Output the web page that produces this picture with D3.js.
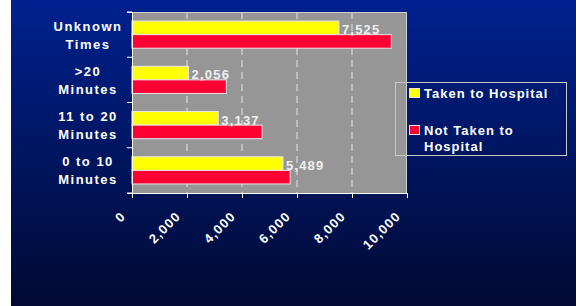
<!DOCTYPE html>
<html><head><meta charset="utf-8">
<script src="https://cdn.jsdelivr.net/npm/d3@7/dist/d3.min.js"></script>
<style>
html,body{margin:0;padding:0;background:#fff;}
svg{display:block;}
text{font-family:"Liberation Sans",Arial,sans-serif;font-weight:bold;fill:#fff;}
</style></head>
<body>
<svg id="c" width="576" height="306"></svg>
<script>
const categories = [["Unknown","Times"],[">20","Minutes"],["11 to 20","Minutes"],["0 to 10","Minutes"]];
const takenToHospital = [7525, 2056, 3137, 5489];
const notTakenToHospital = [9430, 3430, 4730, 5750];
const seriesNames = ["Taken to Hospital", ["Not Taken to","Hospital"]];
const xTicks = [0, 2000, 4000, 6000, 8000, 10000];

const svg = d3.select("#c");
const defs = svg.append("defs");
const g0 = defs.append("linearGradient").attr("id","bg").attr("x1",0).attr("y1",0).attr("x2",0).attr("y2",1);
g0.append("stop").attr("offset","0%").attr("stop-color","#00218f");
g0.append("stop").attr("offset","100%").attr("stop-color","#000a33");
svg.append("rect").attr("x",11).attr("y",0).attr("width",565).attr("height",306).attr("fill","url(#bg)");

const L=132, R=407, T=12, B=193;
const x = d3.scaleLinear().domain([0,10000]).range([L,R]);
const y = d3.scaleBand().domain(d3.range(categories.length)).range([T,B]).paddingInner(0.4).paddingOuter(0.2);
const band = d3.scaleBand().domain(d3.range(categories.length)).range([T,B]);

svg.append("rect").attr("x",L).attr("y",T).attr("width",R-L).attr("height",B-T).attr("fill","#969696");

// grid
svg.append("g").selectAll("line").data(xTicks.slice(1,-1)).join("line")
  .attr("x1",d=>x(d)).attr("x2",d=>x(d)).attr("y1",T).attr("y2",B)
  .attr("stroke","#e6e6e6").attr("stroke-width",1).attr("stroke-dasharray","7,5");
svg.append("path").attr("d",`M${L},${T+0.5}H${R-0.5}V${B}`).attr("fill","none").attr("stroke","#d0d0d0").attr("stroke-width",1);

// bars
const bh = y.bandwidth()/2;
const gb = svg.append("g");
gb.selectAll("rect.t").data(takenToHospital).join("rect").attr("class","t")
  .attr("x",x(0)).attr("y",(d,i)=>y(i)).attr("width",d=>x(d)-x(0)).attr("height",bh)
  .attr("fill","#ffff00").attr("stroke","#e8e8e8").attr("stroke-width",1);
gb.selectAll("rect.n").data(notTakenToHospital).join("rect").attr("class","n")
  .attr("x",x(0)).attr("y",(d,i)=>y(i)+bh).attr("width",d=>x(d)-x(0)).attr("height",bh)
  .attr("fill","#ff0033").attr("stroke","#e8e8e8").attr("stroke-width",1);

// value labels
svg.append("g").selectAll("text").data(takenToHospital).join("text")
  .attr("x",d=>x(d)+3).attr("y",(d,i)=>y(i)+bh-0.5)
  .attr("font-size",13).attr("letter-spacing",1.2).style("fill","#f0f0f0")
  .text(d=>d3.format(",")(d));

// axes
const yAxis = d3.axisLeft(band).tickSize(5).tickFormat("").tickSizeOuter(5);
const ya = svg.append("g").attr("transform",`translate(${L},0)`).call(yAxis);
ya.selectAll("line").attr("stroke","#fff");
ya.select(".domain").attr("stroke","#fff");
// tick marks at band boundaries
ya.selectAll(".tick").remove();
ya.selectAll("line.b").data(d3.range(categories.length+1)).join("line").attr("class","b")
  .attr("x1",-5).attr("x2",0).attr("y1",i=>T+i*band.step()).attr("y2",i=>T+i*band.step()).attr("stroke","#fff");

const xAxis = d3.axisBottom(x).tickValues(xTicks).tickSize(5).tickSizeOuter(0).tickFormat(d3.format(","));
const xa = svg.append("g").attr("transform",`translate(0,${B})`).call(xAxis);
xa.select(".domain").attr("stroke","#fff");
xa.selectAll("line").attr("stroke","#fff");
xa.selectAll("text").attr("font-size",13).attr("letter-spacing",1.2).attr("font-family","Liberation Sans, Arial, sans-serif")
  .attr("fill","#fff").style("fill","#fff")
  .attr("text-anchor","end").attr("dy",null).attr("y",null)
  .attr("transform","translate(-6,24) rotate(-45)");

// category labels
const cl = svg.append("g");
categories.forEach((lines,i)=>{
  const cy = band(i)+band.bandwidth()/2;
  lines.forEach((s,j)=>{
    cl.append("text").attr("x",88).attr("y",cy-4+j*18).attr("text-anchor","middle")
      .attr("font-size",13).attr("letter-spacing",1.5).text(s);
  });
});

// legend
const lg = svg.append("g");
lg.append("rect").attr("x",395.5).attr("y",82.5).attr("width",171).attr("height",73)
  .attr("fill","none").attr("stroke","#c8c8c8").attr("stroke-width",1);
const colors = ["#ffff00","#ff0033"];
seriesNames.forEach((nm,i)=>{
  const yy = 88 + i*37;
  lg.append("rect").attr("x",409.5).attr("y",yy+0.5).attr("width",10).attr("height",9)
    .attr("fill",colors[i]).attr("stroke","#e8e8e8");
  const lines = Array.isArray(nm)?nm:[nm];
  lines.forEach((s,j)=>{
    lg.append("text").attr("x",424).attr("y",yy+9.5+j*16).attr("font-size",13).attr("letter-spacing",1).text(s);
  });
});
</script>
</body></html>
